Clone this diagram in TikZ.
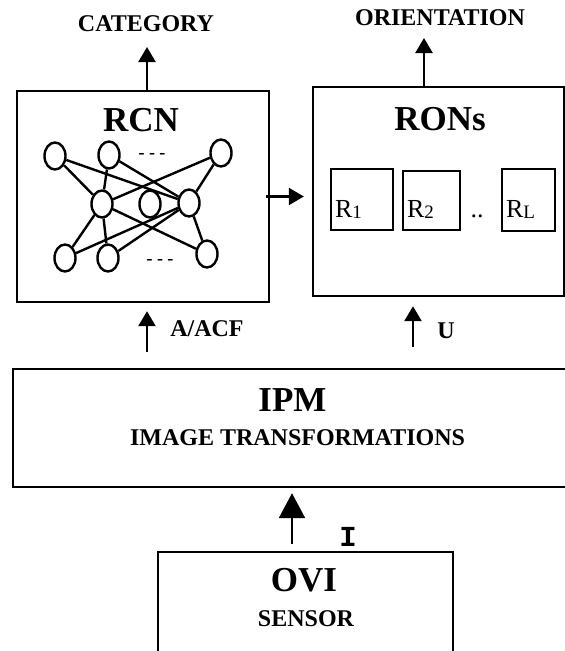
\documentclass[tikz,border=0pt]{standalone}
\usepackage{fontspec}
\setmainfont{Liberation Serif}
\newfontfamily\monofont{Liberation Mono}
\usetikzlibrary{arrows.meta,shapes.geometric}
\newcommand{\rsub}[1]{\raisebox{-1.5pt}{\fontsize{19}{19}\selectfont #1}}

\tikzset{
  caja/.style={draw, line width=2.4pt, rectangle, inner sep=0pt},
  neurona/.style={draw, ellipse, line width=2.4pt, minimum width=21pt, minimum height=27pt, inner sep=0pt},
  enlace/.style={line width=2.4pt},
  flecha/.style={line width=2.4pt, -{Triangle[length=15pt,width=17pt]}},
  flechagrande/.style={line width=2.4pt, -{Triangle[length=25pt,width=26pt]}},
  titulo/.style={font=\fontsize{35}{35}\selectfont\bfseries, anchor=base, inner sep=0pt},
  etiqueta/.style={font=\fontsize{24}{24}\selectfont\bfseries, anchor=base, inner sep=0pt},
  rtexto/.style={font=\fontsize{26}{26}\selectfont, anchor=base west, inner sep=0pt},
  guiones/.style={font=\fontsize{18}{18}\selectfont\bfseries, anchor=base, inner sep=0pt}
}

\begin{document}
\begin{tikzpicture}[x=1pt,y=-1pt]
\useasboundingbox (0,0) rectangle (565,651);
% Cajas principales
\node[caja, minimum width=252pt, minimum height=211pt] (rcn) at (143,196.5) {};
\node[caja, minimum width=251pt, minimum height=209pt] (rons) at (438.5,191.5) {};
\node[caja, minimum width=558pt, minimum height=118pt] (ipm) at (292,428) {};
\node[caja, minimum width=295pt, minimum height=150pt] (ovi) at (305.5,627) {};

% Subredes R
\node[caja, minimum width=62pt, minimum height=61pt] (r1) at (362,199.5) {};
\node[caja, minimum width=57pt, minimum height=59pt] (r2) at (431.5,200.5) {};
\node[caja, minimum width=53pt, minimum height=62pt] (rl) at (528.5,200) {};
\coordinate (rbase) at (0,217);
\node[rtexto, xshift=5pt] (r1t) at (r1.west |- rbase) {R\rsub{1}};
\node[rtexto, xshift=5pt] (r2t) at (r2.west |- rbase) {R\rsub{2}};
\node[rtexto, xshift=5pt] (rlt) at (rl.west |- rbase) {R\rsub{L}};
\node[rtexto, anchor=base] (puntos) at (477,217) {..};

% Titulos
\node[titulo] (rcnt) at (141,131) {RCN};
\node[titulo] (ronst) at (440,130) {RONs};
\node[titulo] (ipmt) at (292.5,411.5) {IPM};
\node[titulo] (ovit) at (304,591.5) {OVI};
\node[etiqueta] (trans) at (297.5,445) {IMAGE TRANSFORMATIONS};
\node[etiqueta] (sensor) at (306,626.5) {SENSOR};

% Etiquetas de las flechas
\node[etiqueta] (category) at (146,31) {CATEGORY};
\node[etiqueta] (orient) at (440,25) {ORIENTATION};
\node[etiqueta] (aacf) at (207,336.5) {A/ACF};
\node[etiqueta] (u) at (446,338) {U};
\node[font=\monofont\fontsize{29}{29}\selectfont\bfseries, anchor=base, inner sep=0pt] (i) at (348,546.5) {I};

% Red neuronal
\node[neurona] (t1) at (55,156) {};
\node[neurona] (t2) at (109,155) {};
\node[neurona] (t3) at (221,153) {};
\node[neurona] (m1) at (102,204) {};
\node[neurona] (m2) at (150,204) {};
\node[neurona] (m3) at (189,203) {};
\node[neurona] (b1) at (65,258) {};
\node[neurona] (b2) at (108,258) {};
\node[neurona] (b3) at (207,254) {};
\foreach \a/\b in {t1/m1,t1/m3,t2/m1,t2/m3,t3/m1,t3/m3,m1/b1,m1/b2,m1/b3,m3/b1,m3/b2,m3/b3}
  \draw[enlace] (\a) -- (\b);
\node[guiones] (g1) at (152,158) {- - -};
\node[guiones] (g2) at (160,264) {- - -};

% Flechas
\coordinate (catp) at (147,47);
\coordinate (orip) at (424,38);
\coordinate (up) at (413,0);
\draw[flecha] (catp |- rcn.north) -- (catp);
\draw[flecha] (orip |- rons.north) -- (orip);
\draw[flecha, shorten <=-4pt, shorten >=8pt] (rcn.east) -- (rons.west |- rcn.east);
\draw[flecha, shorten <=16pt, shorten >=8pt] (catp |- ipm.north) -- (catp |- rcn.south);
\draw[flecha, shorten <=21pt, shorten >=9pt] (up |- ipm.north) -- (up |- rons.south);
\draw[flechagrande, shorten <=7pt, shorten >=5pt] (ipm.south |- ovi.north) -- (ipm.south);

\end{tikzpicture}
\end{document}
